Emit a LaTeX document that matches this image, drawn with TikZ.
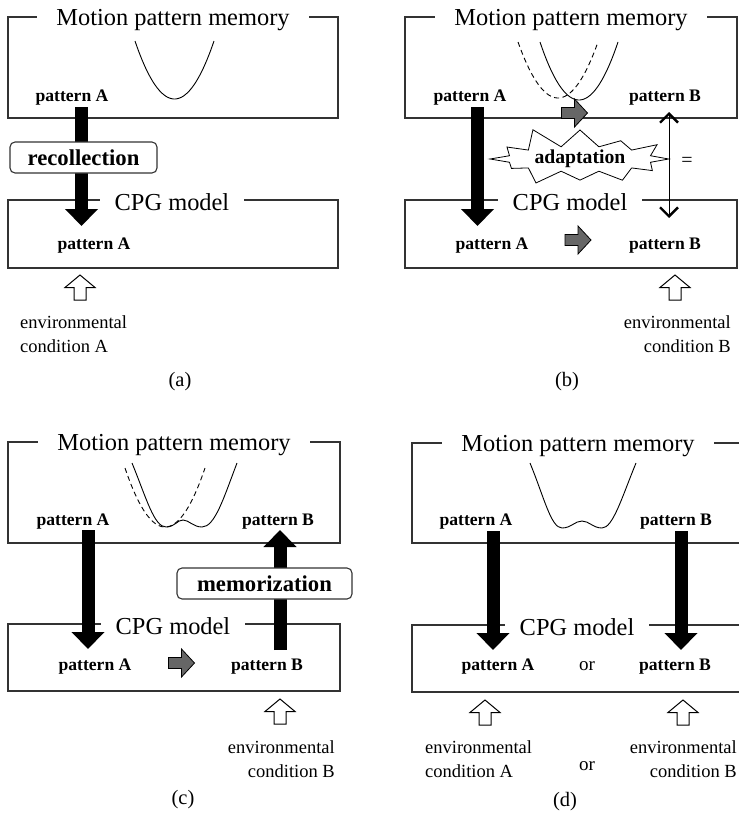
\documentclass[tikz,border=0pt]{standalone}
\usepackage{fontspec}
\setmainfont{Liberation Serif}
\usetikzlibrary{arrows.meta,shapes.symbols}

\tikzset{
  grayarr/.pic={
    \draw[fill=black!60, line width=0.8pt] (-13,-5.5) -- (0,-5.5) -- (0,-14) -- (13,0)
      -- (0,14) -- (0,5.5) -- (-13,5.5) -- cycle;
  },
  envarr/.pic={
    \draw[fill=white, line width=1pt] (-6,12.5) -- (-6,0) -- (-15,0) -- (0,-12.5)
      -- (15,0) -- (6,0) -- (6,12.5) -- cycle;
  },
  barb/.tip={Straight Barb[length=9pt, width=18pt, line width=2.4pt]},
}

\begin{document}
\begin{tikzpicture}[
  x=1pt, y=-1pt,
  box/.style={draw=black!80, line width=1.1pt},
  boxtitle/.style={fill=white, anchor=base, inner xsep=17pt, inner ysep=1pt,
    font=\fontsize{24.4}{28}\selectfont},
  pat/.style={anchor=base, inner sep=1pt, font=\bfseries\fontsize{17.6}{20}\selectfont},
  env/.style={inner sep=0pt, font=\fontsize{18.5}{24}\selectfont},
  caption/.style={anchor=base, font=\fontsize{20.5}{24}\selectfont},
  bigarrow/.style={line width=13pt, -{Triangle[width=32pt, length=17pt]}},
  action/.style={draw=black!80, line width=1.1pt, fill=white, rounded corners=5pt,
    minimum height=31pt, font=\bfseries\fontsize{22.7}{26}\selectfont},
  well/.style={line width=0.9pt},
  olddash/.style={dash pattern=on 5pt off 3.5pt},
]
\clip (0,0) rectangle (739,814);

% (a) recollection
\draw[box] (8,17) rectangle (338,118);
\draw[box] (8,200) rectangle (338,268);
\node[boxtitle, inner xsep=19pt] (mem-a) at (173,25) {Motion pattern memory};
\node[boxtitle, inner xsep=15pt] (cpg-a) at (172,210) {CPG model};
\draw[well] plot[smooth, domain=135:214, samples=40] (\x, {99-58*((\x-174.5)/39.5)^2});
\node[pat] (memA-a) at (72,101) {pattern A};
\node[pat] (cpgA-a) at (94,249) {pattern A};
\coordinate (a-top) at (81.5,107);
\coordinate (a-tip) at (81.5,226);
\draw[bigarrow] (a-top) -- (a-tip);
\node[action, minimum width=147pt] (recall) at (83.5,157.5) {recollection};
\pic at (80,287.5) {envarr};
\node[env, anchor=north west, align=left] (envA-a) at (20,315.4) {environmental\\condition A};
\node[caption] (cap-a) at (180,386) {(a)};

% (b) adaptation
\draw[box] (405,17) rectangle (737,118);
\draw[box] (405,200) rectangle (737,268);
\node[boxtitle, inner xsep=19pt] (mem-b) at (571,25) {Motion pattern memory};
\node[boxtitle, inner xsep=15pt] (cpg-b) at (570,210) {CPG model};
\draw[well, olddash] plot[smooth, domain=518:598, samples=40] (\x, {98-56*((\x-558)/40)^2});
\draw[well] plot[smooth, domain=540:618, samples=40] (\x, {100-58*((\x-579)/39)^2});
\node[pat] (memA-b) at (470,101) {pattern A};
\node[pat] (memB-b) at (665,101) {pattern B};
\node[pat] (cpgA-b) at (492,249) {pattern A};
\node[pat] (cpgB-b) at (665,249) {pattern B};
\pic at (574.5,113) {grayarr};
\pic at (578,240) {grayarr};
\coordinate (b-top) at (477.5,107);
\coordinate (b-tip) at (477.5,226);
\draw[bigarrow] (b-top) -- (b-tip);
\coordinate (b-up) at (669,112);
\coordinate (b-dn) at (669,218);
\draw[line width=0.8pt, barb-barb] (b-up) -- (b-dn);
\node[starburst, draw, line width=0.8pt, fill=white, starburst points=12,
  starburst point height=22pt, random starburst=11, minimum width=190pt, minimum height=60pt,
  inner sep=0pt, font=\bfseries\fontsize{19.7}{22}\selectfont] (adapt) at (580,159) {adaptation};
\node[font=\fontsize{20}{24}\selectfont] (same) at (687,162) {=};
\pic at (675,287.5) {envarr};
\node[env, anchor=north east, align=right] (envB-b) at (731,315.4) {environmental\\condition B};
\node[caption] (cap-b) at (567,386) {(b)};

% (c) memorization
\draw[box] (8,442) rectangle (340,543);
\draw[box] (8,624) rectangle (340,691);
\node[boxtitle, inner xsep=19pt] (mem-c) at (174,450) {Motion pattern memory};
\node[boxtitle, inner xsep=15pt] (cpg-c) at (173,634) {CPG model};
\draw[well, olddash] plot[smooth, domain=125:205, samples=40] (\x, {527-59*((\x-165)/40)^2});
\draw[well] (132,463) .. controls (146,497) and (154,527) .. (166,527)
  .. controls (175,527) and (177,520) .. (183,520)
  .. controls (189,520) and (193,527) .. (202,527)
  .. controls (215,527) and (224,497) .. (237,463);
\node[pat] (memA-c) at (73,525) {pattern A};
\node[pat] (memB-c) at (278,525) {pattern B};
\node[pat] (cpgA-c) at (95,670) {pattern A};
\node[pat] (cpgB-c) at (267,670) {pattern B};
\pic at (181.5,663) {grayarr};
\coordinate (c-top) at (88,530);
\coordinate (c-tip) at (88,649);
\draw[bigarrow] (c-top) -- (c-tip);
\coordinate (c-low) at (280,650);
\coordinate (c-up) at (280,530);
\draw[bigarrow] (c-low) -- (c-up);
\node[action, minimum width=175pt] (memorize) at (264.5,583.5) {memorization};
\pic at (280,711.5) {envarr};
\node[env, anchor=north east, align=right] (envB-c) at (335,740.4) {environmental\\condition B};
\node[caption] (cap-c) at (183,804) {(c)};

% (d) both patterns stored
\draw[box] (412,443) rectangle (760,543);
\draw[box] (412,625) rectangle (760,692);
\node[boxtitle, inner xsep=19pt] (mem-d) at (578,451) {Motion pattern memory};
\node[boxtitle, inner xsep=15pt] (cpg-d) at (577,635) {CPG model};
\draw[well] (530,463) .. controls (544,497) and (551,528) .. (562,528)
  .. controls (571,528) and (575,521) .. (582,521)
  .. controls (589,521) and (593,528) .. (602,528)
  .. controls (613,528) and (622,497) .. (636,463);
\node[pat] (memA-d) at (476,525) {pattern A};
\node[pat] (memB-d) at (676,525) {pattern B};
\node[pat] (cpgA-d) at (498,670) {pattern A};
\node[pat] (cpgB-d) at (675,670) {pattern B};
\node[caption, font=\fontsize{19}{22}\selectfont] (or-cpg) at (587,670) {or};
\coordinate (dA-top) at (493,531);
\coordinate (dA-tip) at (493,650);
\draw[bigarrow] (dA-top) -- (dA-tip);
\coordinate (dB-top) at (681,531);
\coordinate (dB-tip) at (681,650);
\draw[bigarrow] (dB-top) -- (dB-tip);
\pic at (485,712.5) {envarr};
\pic at (683,712.5) {envarr};
\node[env, anchor=north west, align=left] (envA-d) at (425,740.4) {environmental\\condition A};
\node[env, anchor=north east, align=right] (envB-d) at (737,740.4) {environmental\\condition B};
\node[caption, font=\fontsize{19}{22}\selectfont] (or-env) at (587,770) {or};
\node[caption] (cap-d) at (565,806) {(d)};
\end{tikzpicture}
\end{document}
